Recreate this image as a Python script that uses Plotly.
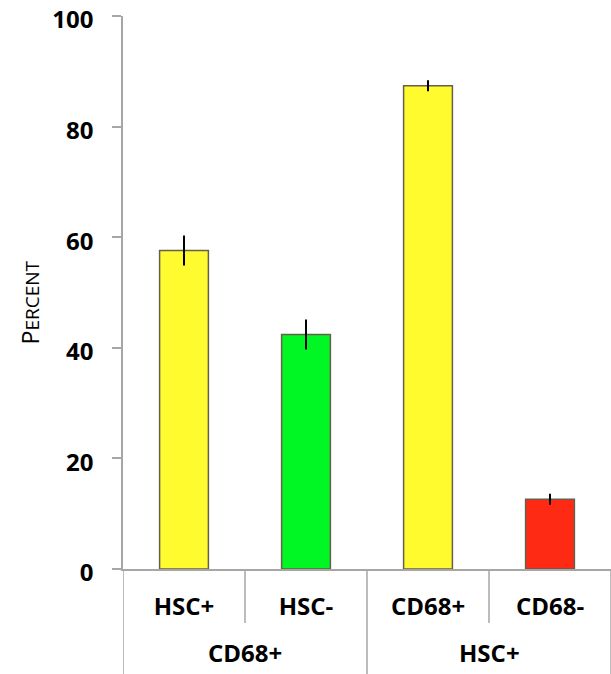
import plotly.graph_objects as go

# data
groups = ["CD68+", "CD68+", "HSC+", "HSC+"]
subgroups = ["HSC+", "HSC-", "CD68+", "CD68-"]
percent = [57.6, 42.4, 87.4, 12.6]
errors = [2.7, 2.7, 1.0, 1.0]
bar_colors = ["#FFFB2F", "#00F723", "#FFFB2F", "#FF2A14"]
y_ticks = [0, 20, 40, 60, 80, 100]

axis_grey = "#A6A6A6"
W, H = 611, 674
M_L, M_R, M_T, M_B = 123, 0, 16, 105
plot_h = H - M_T - M_B

fig = go.Figure()
fig.add_trace(go.Bar(
    x=subgroups,
    y=percent,
    marker=dict(color=bar_colors, line=dict(color="#655F4B", width=1.5)),
    error_y=dict(type="data", array=errors, visible=True,
                 color="black", thickness=2, width=0),
    width=0.4,
))

fig.update_layout(
    width=W, height=H,
    margin=dict(l=M_L, r=M_R, t=M_T, b=M_B),
    plot_bgcolor="white", paper_bgcolor="white",
    showlegend=False,
    font=dict(family="Open Sans", color="black"),
)

fig.update_yaxes(
    range=[0, 100], tickvals=y_ticks, automargin=False,
    showgrid=False, zeroline=False,
    showline=True, linecolor=axis_grey, linewidth=1.5,
    ticks="outside", ticklen=9, tickcolor=axis_grey, tickwidth=1.5,
    tickfont=dict(size=24, weight="bold", family="Open Sans"),
    ticklabelstandoff=14, ticklabeloverflow="allow", ticklabelshift=4,
)
fig.update_xaxes(
    range=[-0.5, len(subgroups) - 0.5], automargin=False,
    showgrid=False, zeroline=False,
    showline=True, linecolor=axis_grey, linewidth=1.5,
    ticks="", ticklabelstandoff=15,
    tickfont=dict(size=24, weight="bold", family="Open Sans"),
)

# boundaries between categories: short ones inside a group, long ones between groups
inner_len = 54 / plot_h
for i in range(len(subgroups) + 1):
    edge = i == 0 or i == len(subgroups) or groups[i] != groups[i - 1]
    fig.add_shape(
        type="line", xref="x", yref="paper",
        x0=i - 0.5, x1=i - 0.5, y0=0, y1=-(M_B / plot_h) if edge else -inner_len,
        line=dict(color=axis_grey, width=1.5),
    )

# group labels centred under their categories
for g in dict.fromkeys(groups):
    idx = [i for i, v in enumerate(groups) if v == g]
    fig.add_annotation(
        text=g, xref="x", yref="paper",
        x=(idx[0] + idx[-1]) / 2, y=-(652 - (H - M_B)) / plot_h,
        xanchor="center", yanchor="middle", showarrow=False,
        font=dict(size=24, weight="bold", family="Open Sans", color="black"),
    )

fig.add_annotation(
    text="P<span style='font-size:19px'>ERCENT</span>",
    xref="paper", yref="paper",
    x=(30 - M_L) / (W - M_L - M_R), y=0.482,
    xanchor="center", yanchor="middle",
    textangle=-90, showarrow=False,
    font=dict(size=23, family="Open Sans", color="black"),
)

fig.write_html("out.html", config={"displayModeBar": False},
               post_script="document.body.style.margin='0';")
